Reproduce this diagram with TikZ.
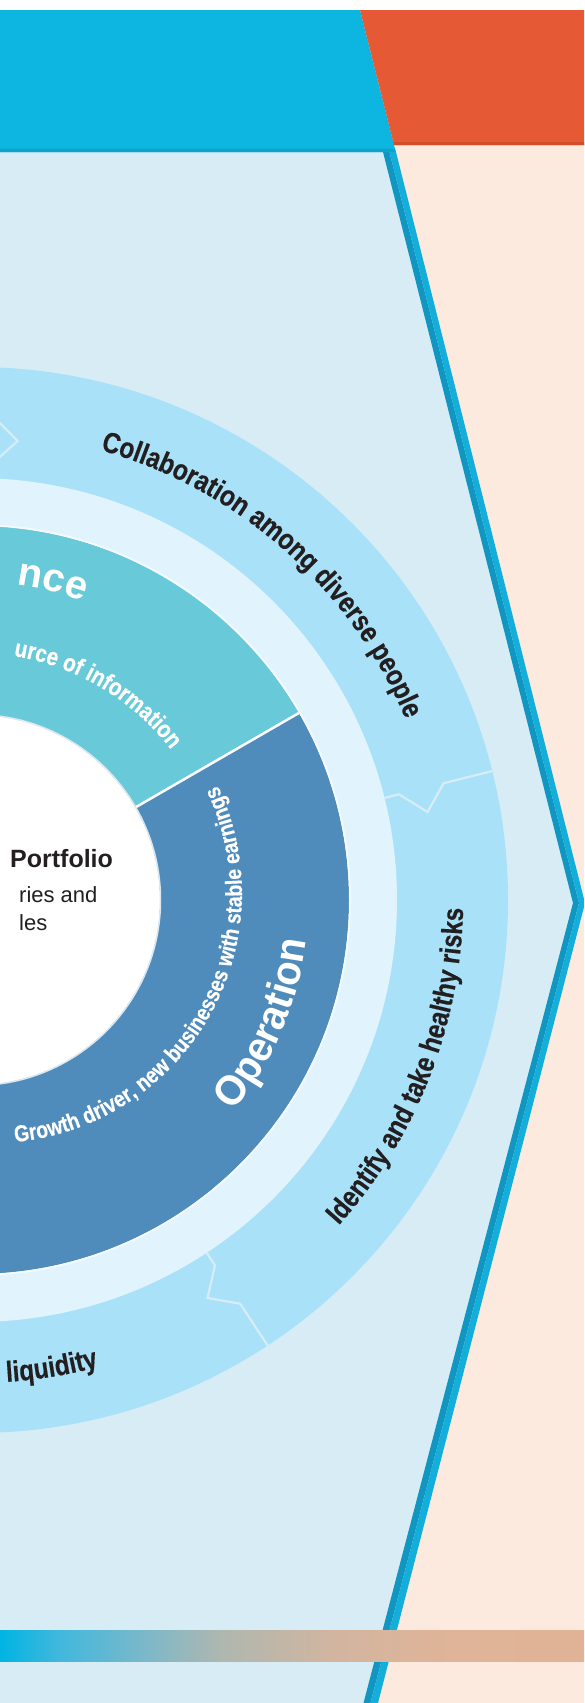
\documentclass[tikz,border=0pt]{standalone}
\usepackage{fontspec}
\setmainfont{Liberation Sans}
\newfontfamily\condfont[FakeStretch=0.84,FakeBold=0.4]{Liberation Sans}
\newfontfamily\opfont[FakeStretch=0.95]{Liberation Sans}
\usetikzlibrary{decorations.text}
\definecolor{bannerblue}{HTML}{0CB6E0}
\definecolor{bannerdark}{HTML}{0AA3CC}
\definecolor{orangec}{HTML}{E55A34}
\definecolor{orangedark}{HTML}{D24E2A}
\definecolor{peach}{HTML}{FCEADF}
\definecolor{panel}{HTML}{D8ECF6}
\definecolor{borderdark}{HTML}{1096C0}
\definecolor{borderlight}{HTML}{13AEDA}
\definecolor{ringblue}{HTML}{A9E1F9}
\definecolor{paleband}{HTML}{E1F3FC}
\definecolor{opblue}{HTML}{4F8CBB}
\definecolor{tealc}{HTML}{68C9D8}
\definecolor{sepc}{HTML}{D6EDF8}
\definecolor{txtdark}{HTML}{231F20}
\definecolor{barA}{HTML}{00B4E2}
\definecolor{barB}{HTML}{40B8DD}
\definecolor{barC}{HTML}{7FB8C8}
\definecolor{barD}{HTML}{B0B7AF}
\definecolor{barE}{HTML}{D2B5A0}
\definecolor{barF}{HTML}{DFB498}
\definecolor{barG}{HTML}{E1B396}
\newcommand\ringfnt{\condfont\bfseries\fontsize{29}{32}\selectfont\color{txtdark}}
\newcommand\smallwfnt{\condfont\bfseries\fontsize{23.2}{26}\selectfont\color{white}}
\newcommand\midwfnt{\condfont\bfseries\fontsize{24.5}{27}\selectfont\color{white}}
\newcommand\bigwfnt{\bfseries\fontsize{40}{44}\selectfont\color{white}}
\newcommand\opwfnt{\opfont\bfseries\fontsize{42}{46}\selectfont\color{white}}
\tikzset{
  ctext/.style={decorate, decoration={text along path, text align=center, text={#1}}},
  ltext/.style={decorate, decoration={text along path, text align=left, text={#1}}},
  sepline/.style={draw=sepc, line width=2.2, line join=miter},
}
\begin{document}
\begin{tikzpicture}[x=1pt,y=1pt]
\useasboundingbox (0,0) rectangle (584,-1703);
\clip (0,0) rectangle (584,-1703);
\fill[white] (0,0) rectangle (584,-1703);
% right peach area and left panel
\fill[peach] (0,-145) rectangle (584,-1703);
\fill[panel] (0,-152) -- (389,-152) -- (579,-903) -- (370,-1703) -- (0,-1703) -- cycle;
% top banners
\fill[bannerblue] (0,-10) -- (360,-10) -- (395.8,-152) -- (0,-152) -- cycle;
\fill[bannerdark] (0,-148.5) -- (394.9,-148.5) -- (395.8,-152) -- (0,-152) -- cycle;
\fill[orangec] (360,-10) -- (584,-10) -- (584,-145) -- (394,-145) -- cycle;
\fill[orangedark] (393.2,-142) -- (584,-142) -- (584,-145) -- (394,-145) -- cycle;
% chevron border
\fill[borderdark] (383,-152) -- (389.5,-152) -- (579,-903) -- (370.5,-1703) -- (363.5,-1703) -- (573,-903) -- cycle;
\fill[borderlight] (389.5,-152) -- (396,-152) -- (585,-903) -- (378,-1703) -- (370.5,-1703) -- (579,-903) -- cycle;
% wheel
\begin{scope}[shift={(-25,-900)}]
  \fill[ringblue] (0,0) circle[radius=533];
  \fill[paleband] (0,0) circle[radius=422];
  \fill[opblue] (0,0) circle[radius=374];
  \fill[tealc] (0,0) -- (30:374) arc[start angle=30, end angle=150, radius=374] -- cycle;
  \draw[white!60!paleband, line width=2] (0,0) circle[radius=375];
  \draw[white, line width=2.5] (30:180) -- (30:374);
  \fill[white] (0,0) circle[radius=185];
  \draw[white!80!opblue, line width=1.5] (0,0) circle[radius=185.5];
  \foreach \t in {87.7,14,-56.7}
    \draw[sepline] (\t:422) -- (\t:437) -- ({\t-3}:461) -- (\t:483) -- (\t:533);
  % outer ring texts
  \path[ctext={|\ringfnt|Collaboration among diverse people}]
    (88.6:467) arc[start angle=88.6, end angle=8.6, radius=467];
  \path[ctext={|\ringfnt|Identify and take healthy risks}]
    (-66.4:488) arc[start angle=-66.4, end angle=23.6, radius=488];
  \path[ctext={|\ringfnt|liquidity}]
    (-110.7:483) arc[start angle=-110.7, end angle=-50.7, radius=483];
  % teal sector texts
  \path[ltext={|\bigwfnt|nce}]
    (82.5:318) arc[start angle=82.5, end angle=20, radius=318];
  \path[ltext={|\midwfnt|urce of information}]
    (81:247) arc[start angle=81, end angle=20, radius=247];
  % operation sector texts
  \path[ctext={|\opwfnt|Operation}]
    (-68.1:334) arc[start angle=-68.1, end angle=21.9, radius=334];
  \begin{scope}[shift={(17,7)}]
    \path[ctext={|\smallwfnt|Growth driver, new businesses with stable earnings}]
      (-99.6:250) arc[start angle=-99.6, end angle=40.4, radius=250];
  \end{scope}
\end{scope}
% centre texts
\node[anchor=base west, inner sep=0, text=txtdark, font=\bfseries\fontsize{25}{28}\selectfont] (portfolio) at (10,-867) {Portfolio};
\node[anchor=base west, inner sep=0, text=txtdark, font=\fontsize{22}{25}\selectfont] (riesand) at (19,-902) {ries and};
\node[anchor=base west, inner sep=0, text=txtdark, font=\fontsize{22}{25}\selectfont] (les) at (19,-930) {les};
% bottom gradient bar
\shade[left color=barA, right color=barB] (0,-1630) rectangle (58,-1661);
\shade[left color=barB, right color=barC] (58,-1630) rectangle (150,-1661);
\shade[left color=barC, right color=barD] (150,-1630) rectangle (223,-1661);
\shade[left color=barD, right color=barE] (223,-1630) rectangle (335,-1661);
\shade[left color=barE, right color=barF] (335,-1630) rectangle (447,-1661);
\shade[left color=barF, right color=barG] (447,-1630) rectangle (584,-1661);
\end{tikzpicture}
\end{document}
